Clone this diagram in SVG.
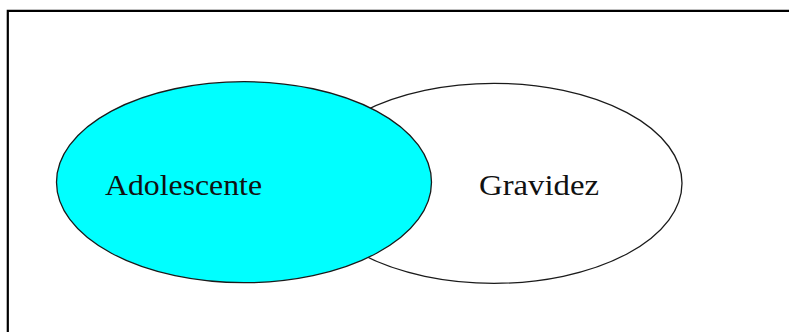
<svg xmlns="http://www.w3.org/2000/svg" width="789" height="332" viewBox="0 0 789 332">
<style>
.shape{stroke:#1a1a1a;stroke-width:1.3}
.label{font-family:"Liberation Serif","Times New Roman",serif;font-size:30px;fill:#111}
</style>
<rect width="789" height="332" fill="#fff"/>
<path d="M7.8,332 V10.8 H789" fill="none" stroke="#000" stroke-width="2.2"/>
<g id="node-gravidez">
<ellipse class="shape" cx="494" cy="183.3" rx="188" ry="100" fill="#fff"/>
<text class="label" x="479" y="195" textLength="120" lengthAdjust="spacingAndGlyphs">Gravidez</text>
</g>
<g id="node-adolescente">
<ellipse class="shape" cx="244" cy="182.2" rx="187.5" ry="100.5" fill="#00ffff"/>
<text class="label" x="105" y="195" textLength="157" lengthAdjust="spacingAndGlyphs">Adolescente</text>
</g>
<g id="connectors"/>
</svg>
